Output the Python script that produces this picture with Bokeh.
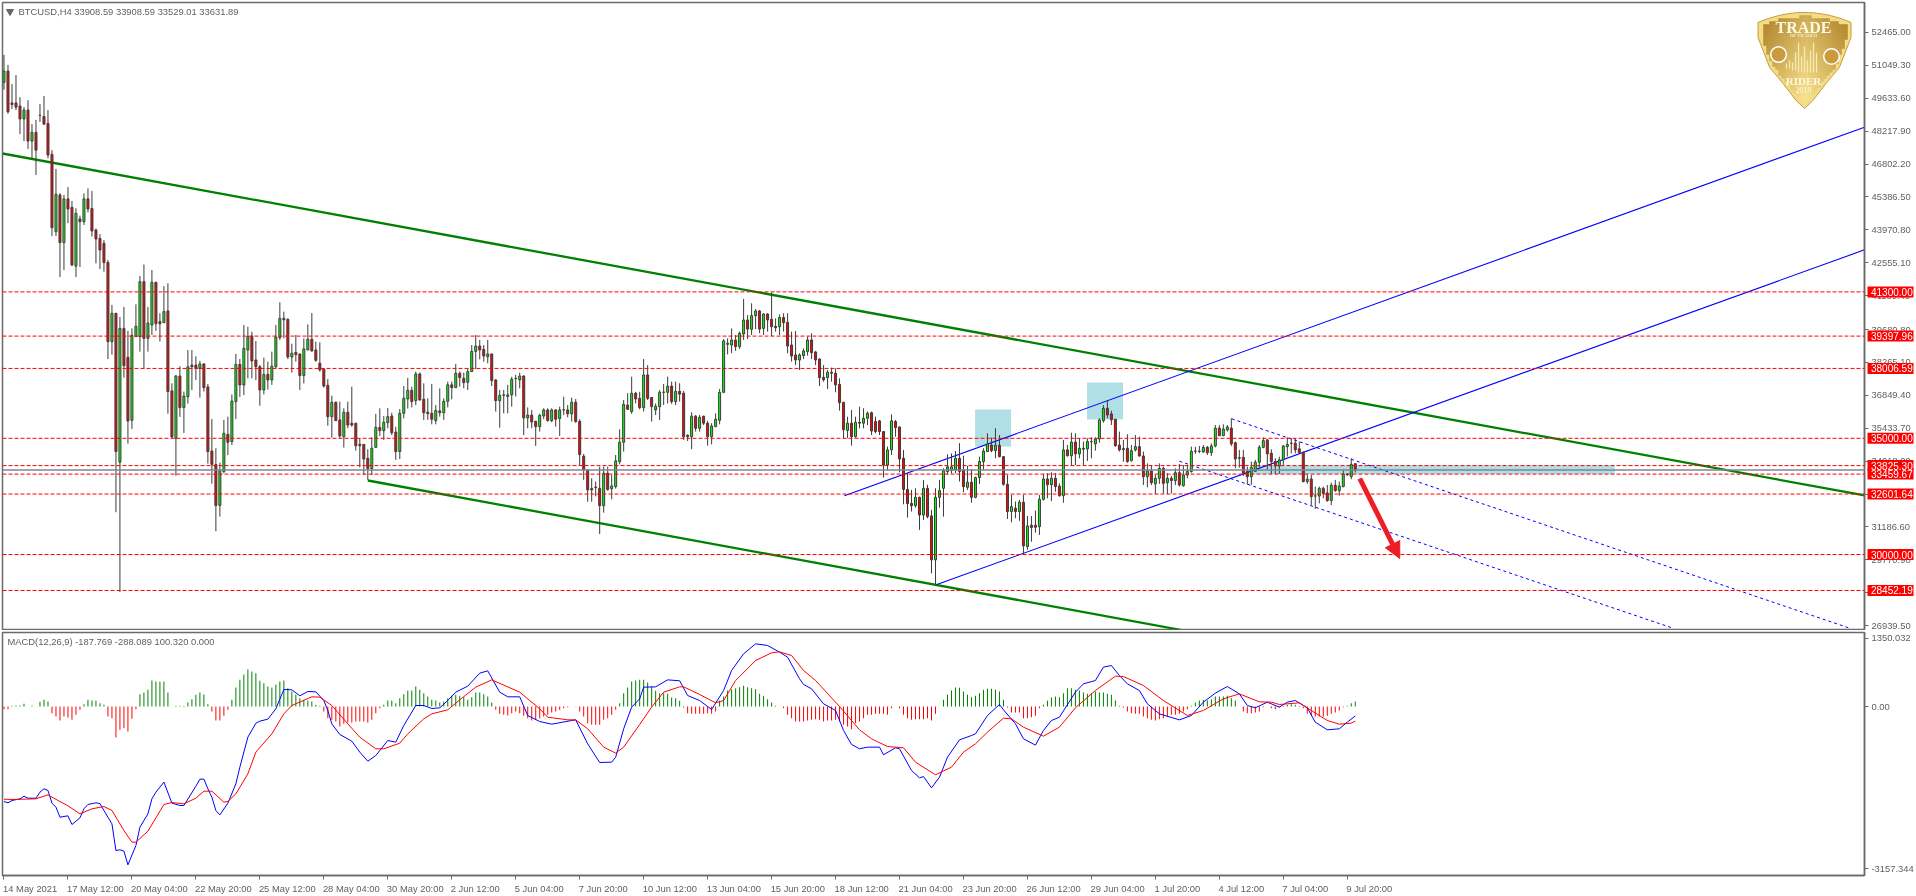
import numpy as np
from bokeh.plotting import figure
from bokeh.layouts import column
from bokeh.models import Range1d, FixedTicker, Label, Arrow, NormalHead, Span
from bokeh.core.properties import value
from bokeh.embed import file_html
from bokeh.resources import INLINE

highs = [
51500,51060,50240,50630,49680,49250,49550,48520,48700,49380,
49730,49125,47400,46590,45550,45470,45810,45210,44900,44580,
45540,45755,45640,44030,43790,43530,42670,40740,40380,40220,
40650,39620,39730,40765,41985,42480,40650,42240,41740,40380,
41550,41670,37365,37725,38100,37010,38800,38800,38530,38330,
38230,37340,35830,34570,33950,35790,35930,36890,38630,38410,
39875,39800,39590,39190,38150,38470,38300,38730,39875,40850,
40450,40160,39070,39445,38630,39300,39900,40390,39160,39130,
38010,37550,36835,36580,36580,36290,
36580,37220,35670,35000,34740,34530,35040,36050,
36290,35960,36300,36100,35500,36260,37250,37600,37220,37870,
37830,37365,36720,37340,36430,37150,36720,37440,37440,38200,
37870,37825,38010,39015,39445,39230,39015,39230,38630,37540,
37080,37080,37300,37650,37725,37825,37710,36330,36220,35760,
36050,36290,36290,36290,36260,36360,36790,36430,36750,36690,
35820,34330,33640,33280,33140,33780,33780,33780,33420,34280,
35390,36650,36940,37650,37000,37000,38410,38150,36760,36500,
37080,37340,37650,37440,37440,37370,37040,35170,36120,36000,
36000,35975,35750,35650,36075,37120,39275,39300,39730,39445,
39590,41000,40300,40810,40560,40520,40380,40380,41280,40160,
40330,40380,40380,39590,39620,38660,38870,39375,39520,38760,
38440,38150,37940,38040,38010,37580,36550,35930,36220,35930,
36360,36290,36150,36150,35930,35790,35315,34640,36030,35790,
35500,34500,33500,32780,32850,32490,33200,33000,31920,32850,
33210,33710,34310,34350,34450,34790,34250,33820,33680,33350,
34210,34570,35215,35030,35430,35140,34240,33420,32560,32280,
32350,32560,31660,31660,31890,32560,33450,33500,33540,33500,
33060,34930,34710,35240,35215,35000,34860,35000,35040,35040,
35860,36430,36650,36190,35820,35290,34930,35170,34710,35140,
35070,34430,33920,33850,33420,33920,33780,33500,33380,33710,
33900,33850,33850,34640,34640,34670,34710,34670,34780,35570,
35570,35600,35570,35860,34860,34500,34500,33780,34000,34070,
34710,35040,34970,34530,34140,34210,34710,35040,35000,35000,
34860,34430,33450,33420,32920,32920,32920,32990,33090,33210,
33140,33640,33500,34140,33908.59]

opens = [
50315,50800,49430,49430,49300,48740,49125,47790,48165,48890,
48850,48550,47220,43890,45470,43420,45300,44940,42410,44440,
44320,45300,44890,43960,43600,43390,42570,39160,40380,33970,
39730,38485,35775,39375,39375,41740,39300,39875,41710,40020,
39975,40480,37040,35000,37680,36320,36790,38150,38150,38010,
38200,37210,34450,33870,32110,33570,35170,34860,36580,38180,
37295,38800,39400,38370,38080,37080,37750,37510,38080,39330,
40160,40120,38500,38700,38630,37700,38800,39260,38800,38230,
37980,37280,35930,36550,35790,35070,
36120,35645,35645,34740,34740,34140,33700,34610,
35470,35330,35670,35960,35270,34430,36075,36690,37065,36620,
37770,36680,36120,36075,35760,36180,36100,36590,37300,37180,
37800,37580,37410,37870,38740,38970,38830,38510,38630,37510,
36620,36850,36800,36870,37570,37510,37680,35875,36000,35730,
35500,35960,36220,35760,36220,35850,36220,36220,36050,36550,
35730,34230,33640,32835,32900,32850,32100,33500,32835,32920,
34000,34830,36430,36150,36940,36720,36320,37725,36760,36220,
36360,36980,36980,37250,36580,37020,36940,35130,35070,35950,
35430,35950,35650,35070,35500,35775,36980,39045,39015,39230,
38945,39490,40090,39690,40280,40480,39730,40350,40120,39820,
39800,40200,39990,39015,38585,38370,38560,38730,39230,38715,
38410,37625,37610,37840,37800,37320,36550,35340,35650,35070,
35690,35650,35860,36100,35720,35750,35290,33850,34500,35720,
35490,34140,32800,32200,32100,32460,31700,32850,31660,29770,
32460,32850,33570,33620,33640,34140,33640,32890,33110,32460,
33310,34000,34430,34710,34470,34700,34210,33020,31850,31990,
31850,32250,30340,31260,31260,31200,32375,33250,33000,33280,
32940,32530,34500,34250,34840,34330,34570,34540,34860,34760,
34970,35760,36290,36050,35820,34710,34555,34570,34040,34500,
34640,34240,33350,33600,33040,33280,33710,33090,33280,33180,
33520,32960,33420,33570,34440,34440,34410,34610,34380,34670,
35440,35110,35360,35440,34810,34170,34180,33570,33350,33580,
33970,34610,34930,34360,34000,33810,34070,34640,34790,34790,
34550,34400,33140,33250,32520,32520,32850,32650,32320,32980,
32750,32920,33460,33350,33908.59]

closes = [
50800,49050,49360,49250,48740,49125,47790,48165,47400,48895,
48520,47190,44060,45500,43420,45300,44870,42460,44680,44320,
45300,44870,43920,43575,43100,42560,39160,40380,34430,39730,
38125,35745,39430,39820,41740,39300,39960,41710,39930,39930,
40450,37010,35060,37680,36320,36820,38080,38080,38010,38200,
37180,34430,33880,32110,33610,35215,34830,36600,38180,37295,
38870,39375,38330,38080,37080,37750,37510,38100,39360,40160,
40100,38500,38660,38600,37700,38845,39260,38760,38355,37940,
37250,35930,36550,35760,35100,36120,
35570,35570,34680,34680,34110,33700,34570,35470,
35330,35690,35930,35240,34430,36075,36720,37065,36580,37770,
36650,36100,36060,35820,36200,36100,36590,37300,37180,37800,
37610,37395,37870,38740,38970,38800,38540,38630,37480,36620,
36850,36870,36870,37540,37580,37680,35875,36000,35700,35500,
35990,36220,35760,36220,35820,36220,36230,36050,36550,35720,
34300,33640,32780,32780,32880,32100,33500,32800,32950,34030,
34830,36460,36250,36940,36690,36320,37725,36720,36360,36380,
36980,36990,37240,36580,37020,36900,35070,35070,35950,35430,
35900,35650,35070,35530,35820,36980,39190,39090,39230,38945,
39520,40090,39700,40280,40480,39700,40350,40090,39800,39760,
40200,39975,38970,38540,38370,38585,38760,39230,38685,38370,
37610,37520,37840,37800,37300,36530,35370,35650,35070,35690,
35650,35860,36075,35315,35290,35290,33850,34500,35750,35460,
34110,32800,32190,32100,32460,31700,32850,31630,29770,32460,
32750,33600,33770,33770,34140,33570,32920,33110,32460,33310,
34000,34450,34760,34470,34700,34210,33020,31850,32060,31850,
32250,30370,31230,31160,31170,32375,33250,33000,33280,32920,
32530,34500,34250,34840,34330,34570,34530,34860,34855,34970,
35790,36290,36000,35790,34680,34500,34510,34000,34470,34640,
34240,33350,33600,33090,33280,33710,33060,33280,33180,33520,
32990,33420,33570,34440,34450,34450,34610,34380,34670,35440,
35110,35400,35490,34760,34110,34140,33500,33350,33750,33970,
34610,34900,34330,34000,33810,34070,34670,34740,34785,34500,
34380,33140,33240,32490,32520,32850,32630,32320,32980,32750,
32950,33460,33430,33880,33631.89]

lows = [
50000,48970,49170,49125,48090,47790,47450,47050,46330,48610,
48480,47050,43700,43700,41940,42240,44260,42410,41940,42370,
44180,44720,43680,42530,42285,42170,38410,38600,31820,28380,
37610,34770,35400,39375,38730,38010,38730,39445,39620,39160,
39975,36060,35000,33390,35920,35230,36490,37080,37510,36750,
37010,33910,33050,31000,31630,33495,34280,34710,35830,36780,
36860,37580,37580,37500,36400,36890,37100,37300,38010,39230,
39300,38410,37825,38300,37080,37365,38800,38730,38300,37870,
37180,35545,35030,35745,35000,34600,
35430,35500,34470,33750,33420,33210,33420,34610,
35100,34930,35430,35140,34070,34110,35860,36280,36330,36430,
36620,35790,35790,35600,35600,35930,35790,36330,36680,37180,
37220,37150,37080,37870,37970,38400,38300,38230,37250,36150,
35460,36075,36075,36360,36800,37150,35140,35430,35430,34670,
35290,35820,35720,35690,35500,35100,36000,35900,35720,35670,
33850,33210,32270,32270,32500,30880,31800,32750,32375,32835,
33880,34430,36220,36050,36500,36250,36150,36650,35720,36000,
35790,36430,36500,36480,36430,36580,34930,34885,34530,35290,
35290,35570,34685,34740,35500,35600,36940,38610,38660,38760,
38845,39230,39270,39445,39700,39520,39445,39590,39400,39590,
39445,39590,38660,38300,38150,37940,38410,38560,38410,38150,
37250,37440,37120,37440,36980,36190,35000,35000,34685,35030,
35430,35430,35570,35140,35215,35140,33310,33640,34280,35070,
33540,32160,31590,31850,32020,31060,31490,31560,29190,28730,
32020,31630,33450,33490,33490,33140,32680,32780,32230,32420,
33040,33640,34430,34400,34140,34180,32960,31530,31390,31560,
31450,30050,30200,30550,30940,30840,32320,32420,32300,32700,
32490,32230,34210,33850,33850,34140,33850,34025,34140,34470,
34810,35670,35860,35570,34640,34430,33990,33950,34000,34430,
34210,32990,32890,32990,32600,33040,32630,32600,32630,32990,
32920,32920,33280,33520,34330,34360,34380,34280,34240,34610,
35100,35100,35290,34670,33710,33740,33380,33000,33000,33560,
33750,34570,33640,33460,33460,33460,33850,34210,34350,34350,
34330,33100,33040,32130,31960,32200,32420,32270,32130,32700,
32530,32890,33380,33240,33529.01]

osma = [
-53,-53,13,20,20,53,0,13,0,93,
132,99,-132,-199,-278,-199,-218,-265,-165,-66,
46,132,119,112,66,33,-199,-232,-615,-463,
-430,-496,-245,-53,245,278,331,516,496,490,
496,278,0,13,13,-13,79,146,232,278,
238,46,-99,-278,-278,-185,-66,132,377,529,
635,735,695,662,510,463,397,377,430,496,
516,364,298,232,165,132,119,99,33,13,
-99,-232,-265,-298,-397,-344,-318,-318,-298,-298,
-298,-318,-265,-132,-33,33,119,119,66,165,
245,311,318,397,331,265,199,132,119,79,
99,165,212,232,212,185,132,185,278,278,
245,199,79,-66,-146,-165,-179,-132,-99,-132,
-185,-232,-278,-265,-232,-199,-165,-119,-99,-66,
-33,-13,0,7,-99,-199,-331,-364,-364,-364,
-265,-232,-165,-66,66,265,377,496,516,529,
529,476,397,311,265,265,251,179,165,112,
-20,-132,-146,-146,-146,-146,-132,-146,-99,119,
199,318,344,364,384,410,384,364,344,251,
212,146,79,13,0,-33,-165,-232,-298,-298,
-298,-278,-265,-251,-265,-298,-278,-278,-265,-298,
-364,-397,-450,-331,-298,-232,-165,-165,-146,-146,
-146,-165,-33,0,-33,-165,-232,-265,-251,-251,
-251,-232,-278,-146,0,132,232,318,377,371,
298,232,185,212,265,331,351,351,331,298,
132,-20,-119,-119,-119,-232,-232,-212,-185,-33,
33,112,179,199,185,265,364,364,331,318,
278,251,265,298,278,278,251,232,119,13,
-20,-99,-132,-146,-146,-199,-232,-265,-278,-251,
-232,-199,-165,-165,-146,-99,-53,13,79,119,
132,119,146,199,199,199,212,165,119,0,
-99,-132,-132,-119,-99,-13,0,-33,-53,-20,
13,33,46,33,-13,-33,-146,-185,-199,-199,
-199,-185,-146,-119,-79,-13,13,66,100]

macd_bars = [0,1,2,4,5,6,8,9,10,11,12,13,14,16,17,19,20,21,23,24,25,26,27,28,29,30,31,33,34,36,37,38,40,42,44,45,48,49,50,51,52,53,54,56,58,59,61,63,64,66,68,70,72,74,76,78,80,81,82,84,87,89,91,93,96,98,100,103,105,107,109,111,113,116,119,121,124,126,129,131,134,137,142,143,146,149,152,153,155,157,
159,160,163,166,169,171,174,176,177,180,182,185,188,191,194,196,199,200,202,205,208,210,212,214,216,219,220,223,224,227,229,230,232,234,236,239,242,243,246,249,250,253,255,258,260,262,264,268,270,273,275,277,279,281,284,286,289,294,297,300,303,306,309,311,313,316,319,321,323,326,328,331,334,336,338]
macd_main = [-1886,-1912,-1866,-1833,-1780,-1820,-1820,-1700,-1634,-1667,-1919,-1999,-2197,-2170,-2342,-2210,-2031,-1945,-1912,-1926,-2065,-2197,-2329,-2859,-2845,-2872,-3143,-2759,-2395,-2131,-1833,-1700,-1502,-1919,-1965,-1965,-1581,-1442,-1442,-1634,-1800,-2065,-2151,-1919,-1535,-1204,-609,-331,-291,-251,-46,337,331,212,298,291,119,-79,-344,-556,-688,-906,-1085,-973,-675,-708,-377,20,20,-40,-26,119,285,404,662,708,285,192,192,-179,-298,-351,-278,-265,-741,-1112,-1105,-1006,-443,-13,
152,384,390,529,510,218,119,0,-60,318,715,1046,1244,1211,1079,979,549,437,351,53,-79,-476,-754,-840,-807,-807,-959,-820,-840,-1270,-1416,-1390,-1615,-1403,-1006,-662,-576,-543,-179,40,-66,-344,-641,-767,-476,-278,-212,285,450,516,781,814,615,450,318,53,-146,-265,-179,86,265,397,251,20,-26,86,-13,86,119,-26,-311,-463,-443,-311,-188]

signal_bars = [0,2,8,11,12,16,19,22,25,27,30,32,33,36,40,42,45,48,50,52,55,56,58,61,63,67,70,72,77,79,82,86,89,93,95,99,101,105,107,111,114,118,122,129,134,136,141,143,146,150,153,155,
159,162,165,169,170,174,178,180,183,188,192,194,197,200,203,209,214,217,221,225,228,233,237,240,243,246,250,252,255,260,264,268,273,278,280,285,290,296,300,305,309,314,317,319,324,327,331,334,337,338]
macd_signal = [-1840,-1846,-1833,-1754,-1800,-1972,-2131,-2031,-1985,-2065,-2462,-2693,-2693,-2475,-1945,-1906,-1932,-1820,-1681,-1681,-1899,-1886,-1734,-1337,-906,-543,-146,20,192,185,20,-344,-609,-840,-840,-728,-543,-245,-146,-66,132,384,529,285,-46,-212,-265,-265,-443,-807,-926,-807,
-357,-13,285,390,390,238,73,119,516,913,1065,1085,1012,715,516,0,-463,-642,-794,-820,-1105,-1356,-1204,-906,-741,-509,-232,-245,-410,-589,-410,-26,318,602,595,417,119,-179,-79,152,251,93,86,40,73,-79,-278,-351,-331,-288]

price_ticks = [52465.00,51049.30,49633.60,48217.90,46802.20,45386.50,43970.80,42555.10,41139.40,39680.80,38265.10,36849.40,35433.70,34018.00,32602.30,31186.60,29770.90,28355.20,26939.50]
tag_levels = [41300.00,39397.96,38006.59,35000.00,33825.30,33459.67,32601.64,30000.00,28452.19]
last_close = 33631.89
macd_ticks = [1350.032,0.0,-3216.0]
macd_tick_labels = ["1350.032","0.00","-3157.344"]
date_ticks = list(range(0,337,16))
date_labels = ["14 May 2021","17 May 12:00","20 May 04:00","22 May 20:00","25 May 12:00","28 May 04:00","30 May 20:00","2 Jun 12:00","5 Jun 04:00","7 Jun 20:00","10 Jun 12:00","13 Jun 04:00","15 Jun 20:00","18 Jun 12:00","21 Jun 04:00","23 Jun 20:00","26 Jun 12:00","29 Jun 04:00","1 Jul 20:00","4 Jul 12:00","7 Jul 04:00","9 Jul 20:00"]

# drawn objects (bar index, price)
green_top = ([-0.375,465.375],[47255,32540])
green_bottom = ([91,294.2],[33184,26760])
blue_top = ([210.2,465.375],[32526,48388])
blue_bottom = ([233.35,465.375],[28709,43110])
dash_top = ([307.1,461.9],[35839,26816])
dash_bottom = ([294,417.7],[34015,26816])
zone_left = [242.9,270.9,312.4]
zone_right = [251.9,279.9,402.9]
zone_top = [36239,37401,33825.30]
zone_bottom = [34647,35809,33459.67]

assert len(highs)==339 and len(opens)==339 and len(closes)==339 and len(lows)==339 and len(osma)==339
assert len(macd_bars)==len(macd_main) and len(signal_bars)==len(macd_signal)

FONT = "Liberation Sans"
FS = "9.4px"
FS_PX = 9.4
GREY = "#5f5f5f"
AX = "#6a6a6a"
XR = (-0.375,465.375)

def X(px): return (px-3.5)/4
def Y(py): return 30000+(554-py)*43.03

def base(p):
    p.grid.visible = False
    p.background_fill_color = "white"
    p.border_fill_color = "white"
    p.outline_line_color = AX
    p.outline_line_width = 1.5

def style_right(ax):
    ax.axis_line_color = AX
    ax.axis_line_width = 1.5
    ax.major_tick_line_color = AX
    ax.major_tick_out = 4
    ax.major_tick_in = 0
    ax.minor_tick_line_color = None
    ax.major_label_text_font = FONT
    ax.major_label_text_font_size = FS
    ax.major_label_text_color = GREY
    ax.major_label_standoff = 3

# ---------- price panel
p = figure(width=1916, height=630, x_range=Range1d(*XR), y_range=Range1d(Y(629),Y(2)),
           output_backend="svg", toolbar_location=None, x_axis_location=None, y_axis_location="right",
           min_border_left=2, min_border_right=51, min_border_top=2, min_border_bottom=1)
base(p)
style_right(p.yaxis[0])
p.yaxis[0].ticker = FixedTicker(ticks=price_ticks)
p.yaxis[0].major_label_overrides = {t: f"{t:.2f}" for t in price_ticks}

p.quad(left=zone_left,right=zone_right,top=zone_top,bottom=zone_bottom,fill_color="#b0e0e6",line_color=None)
p.add_layout(Span(location=last_close,dimension="width",line_color="#778899",line_width=1.5))
for lv in tag_levels:
    p.add_layout(Span(location=lv,dimension="width",line_color="#ff0000",line_width=1,line_dash="4 2"))
for xs,ys in (green_top,green_bottom):
    p.line(xs,ys,line_color="#008000",line_width=2.3)
for xs,ys in (blue_top,blue_bottom):
    p.line(xs,ys,line_color="#0000ff",line_width=1.1)
for xs,ys in (dash_top,dash_bottom):
    p.line(xs,ys,line_color="#0000ff",line_width=1,line_dash="3 3")

bars = np.arange(len(opens))
o,h,l,c = map(np.array,(opens,highs,lows,closes))
up = c>=o
p.segment(bars,h,bars,l,line_color="#3c3c3c",line_width=1)
p.vbar(bars[up],top=c[up],bottom=o[up],width=0.5,fill_color="#00ff00",line_color="#3c3c3c",line_width=1)
p.vbar(bars[~up],top=o[~up],bottom=c[~up],width=0.5,fill_color="#ff0000",line_color="#3c3c3c",line_width=1)

p.add_layout(Arrow(end=NormalHead(size=16,fill_color="#ee1c25",line_color="#ee1c25"),
                   x_start=X(1360),y_start=Y(478),x_end=X(1400),y_end=Y(558),
                   line_color="#ee1c25",line_width=5))

# logo (decoration, in pixel-derived positions)
def inside(px,py,s=1.0):
    t=abs(px-1805)/(46.5*s)
    yy=(py-55)/s+55
    return t<=1 and yy>=12+10*t*t and t<=np.interp(yy,[37,67,83,100,108],[1,.75,.46,.18,0])
def mix(a,b,f):
    f=min(max(f,0),1)
    return "#%02x%02x%02x"%tuple(int(a[i]+(b[i]-a[i])*f) for i in range(3))
ys_prof=[37,67,83,100,108]; ts_prof=[1,.75,.46,.18,0]
outx=[];outy=[]
for t in np.linspace(-1,1,25):
    outx.append(X(1805+46.5*t)); outy.append(Y(12+10*t*t))
for yy,tt in list(zip(ys_prof,ts_prof))[:-1]:
    outx.append(X(1805+46.5*tt)); outy.append(Y(yy))
outx.append(X(1805)); outy.append(Y(108))
for yy,tt in list(zip(ys_prof,ts_prof))[-2::-1]:
    outx.append(X(1805-46.5*tt)); outy.append(Y(yy))
p.patch(outx,outy,fill_color="#f3dd84",line_color="#c79a3a",line_width=1)
cl,cr,ct,cb,cc=[],[],[],[],[]
step=3
dark=(168,120,34); light=(246,224,140)
for px in np.arange(1758,1852,step):
    for py in np.arange(12,108,step):
        if inside(px+step/2,py+step/2,0.9):
            fx=1-abs(px-1805)/42; fy=(py-20)/80
            cl.append(X(px));cr.append(X(px+step));ct.append(Y(py));cb.append(Y(py+step))
            cc.append(mix(dark,light,0.15+0.45*fx+0.5*fy-0.05))
p.quad(left=cl,right=cr,top=ct,bottom=cb,fill_color=cc,line_color=cc,line_width=0.5)
lx=[1787,1790,1793,1796,1799,1802,1805,1808,1811,1814,1817]
lt=[63,60,62,52,42,56,46,60,50,42,52]
lb=[68,68,70,70,72,72,72,72,72,72,72]
p.segment([X(v) for v in lx],[Y(v) for v in lt],[X(v) for v in lx],[Y(v) for v in lb],line_color="#f7ebb8",line_width=1.2)
p.circle([X(1779),X(1832)],[Y(54),Y(56)],radius=3.0/4*2.6,fill_color="#c99b3c",line_color="white",line_width=1.5)
for txt,cx,cy,sz,fw in (("TRADE",1804,27,"16px","bold"),("OF TRADER",1804,35,"5px","normal"),("RIDER",1804,80,"11px","bold"),("2019",1804,89,"8px","normal")):
    p.add_layout(Label(x=X(cx),y=Y(cy),text=txt,text_color="#fff8e0",text_font="Liberation Serif",text_font_size=sz,text_font_style=fw,text_align="center",text_baseline="middle"))

p.scatter([X(9.5)],[Y(11)],marker="inverted_triangle",size=7,fill_color="#666666",line_color="#666666")
p.add_layout(Label(x=X(18),y=Y(11),text="BTCUSD,H4  33908.59 33908.59 33529.01 33631.89",text_color=GREY,
                   text_font=FONT,text_font_size=FS,text_align="left",text_baseline="middle"))

# ---------- MACD panel
def MY(py): return (706-py)*19.85
q = figure(width=1916, height=266, x_range=Range1d(*XR), y_range=Range1d(MY(875),MY(632)),
           output_backend="svg", toolbar_location=None, x_axis_location="below", y_axis_location="right",
           min_border_left=2, min_border_right=51, min_border_top=2, min_border_bottom=21)
base(q)
style_right(q.yaxis[0])
q.yaxis[0].ticker = FixedTicker(ticks=macd_ticks)
q.yaxis[0].major_label_overrides = dict(zip(macd_ticks,macd_tick_labels))

# date axis: tick marks are its minor ticks; its labels start at the tick, as in MT4
CW = {" ":.278,":":.278,"M":.833,"a":.556,"y":.5,"J":.5,"u":.556,"n":.556,"l":.222}
def label_centre(t,s):
    return t + (sum(CW.get(ch,.556) for ch in s)*FS_PX/2 - 1)/4
centres = [label_centre(t,s) for t,s in zip(date_ticks,date_labels)]
xa = q.xaxis[0]
xa.ticker = FixedTicker(ticks=centres, minor_ticks=date_ticks)
xa.major_label_overrides = dict(zip(centres,date_labels))
xa.axis_line_color = AX; xa.axis_line_width = 1.5
xa.major_tick_line_color = None; xa.major_tick_out = 0; xa.major_tick_in = 0
xa.minor_tick_line_color = AX; xa.minor_tick_out = 4; xa.minor_tick_in = 0
xa.major_label_text_font = FONT; xa.major_label_text_font_size = FS; xa.major_label_text_color = GREY
xa.major_label_standoff = 3

hist=np.array(osma)
pos=hist>=0
q.vbar(bars[pos],top=hist[pos],bottom=0,width=0.25,fill_color="#008000",line_color=None)
q.vbar(bars[~pos],top=0,bottom=hist[~pos],width=0.25,fill_color="#ff0000",line_color=None)
q.line(macd_bars,macd_main,line_color="#0000ff",line_width=1)
q.line(signal_bars,macd_signal,line_color="#ff0000",line_width=1)
q.add_layout(Label(x=X(7),y=MY(641),text="MACD(12,26,9) -187.769 -288.089 100.320 0.000",text_color=GREY,
                   text_font=FONT,text_font_size=FS,text_align="left",text_baseline="middle"))

# ---------- price tags over the axis gutter (same price range as the price panel)
g = figure(width=50, height=630, x_range=Range1d(0,50), y_range=p.y_range,
           output_backend="svg", toolbar_location=None, x_axis_location=None, y_axis_location=None,
           min_border_left=0, min_border_right=0, min_border_top=2, min_border_bottom=1,
           styles={"position":"fixed","left":"1866px","top":"0px","z-index":"5"})
g.grid.visible = False
g.background_fill_color = None
g.border_fill_color = None
g.outline_line_color = None
tag_half = 5.5*43.03
g.quad(left=[1]*len(tag_levels),right=[47]*len(tag_levels),
       top=[v+tag_half for v in tag_levels],bottom=[v-tag_half for v in tag_levels],
       fill_color="#ff0000",line_color=None)
g.text(x=[4.5]*len(tag_levels),y=tag_levels,text=[f"{v:.2f}" for v in tag_levels],
       text_color="white",text_font=value(FONT),text_font_size="10px",
       text_align="left",text_baseline="middle")

layout = column(p,q,spacing=0,styles={"position":"fixed","left":"0px","top":"0px"})
open("out.html","w").write(file_html([layout,g],INLINE))
